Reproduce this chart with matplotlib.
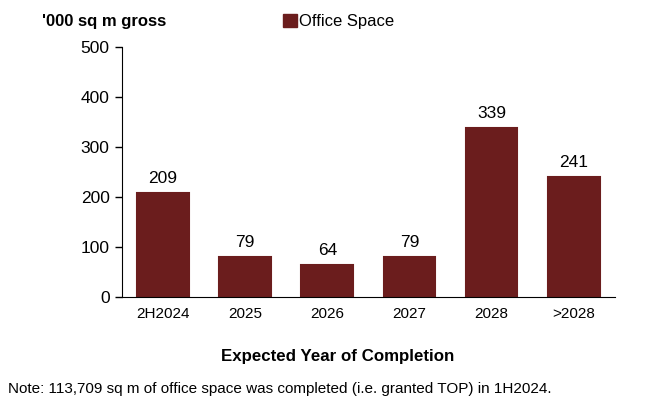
import matplotlib
matplotlib.use('Agg')
import matplotlib.pyplot as plt
from matplotlib.patches import Patch

plt.rcParams['font.family'] = ['Liberation Sans', 'DejaVu Sans']

# Pipeline supply of office space by expected year of completion
years = ['2H2024', '2025', '2026', '2027', '2028', '>2028']
office_space = [209, 79, 64, 79, 339, 241]
bar_color = '#6b1d1d'

fig = plt.figure(figsize=(6.5, 4.13), dpi=100)
ax = fig.add_axes([0.1877, 0.281, 0.758, 0.605])

x = range(len(years))
ax.bar(x, office_space, width=0.63, color=bar_color, edgecolor=bar_color, linewidth=1.5)
for xi, v in zip(x, office_space):
    ax.text(xi, v + 14, str(v), ha='center', va='bottom', fontsize=12.5)

ax.set_xlim(-0.5, len(years) - 0.5)
ax.set_ylim(0, 500)
ax.set_yticks(range(0, 501, 100))
ax.set_xticks(list(x))
ax.set_xticklabels(years)
ax.tick_params(axis='x', length=0, pad=7, labelsize=11)
ax.tick_params(axis='y', length=5, width=1, labelsize=12.5, pad=4)
ax.spines['top'].set_visible(False)
ax.spines['right'].set_visible(False)

fig.text(0.065, 0.948, "'000 sq m gross", fontsize=12, fontweight='bold', va='center')
fig.legend(handles=[Patch(color=bar_color, label='Office Space')],
           loc='center left', bbox_to_anchor=(0.435, 0.948), frameon=False,
           fontsize=12, handlelength=0.85, handleheight=0.85, handletextpad=0.1,
           borderpad=0, borderaxespad=0)
fig.text(0.52, 0.138, 'Expected Year of Completion', fontsize=12.2,
         fontweight='bold', ha='center', va='center')
fig.text(0.012, 0.058,
         'Note: 113,709 sq m of office space was completed (i.e. granted TOP) in 1H2024.',
         fontsize=11, va='center')

plt.savefig('out.png')
